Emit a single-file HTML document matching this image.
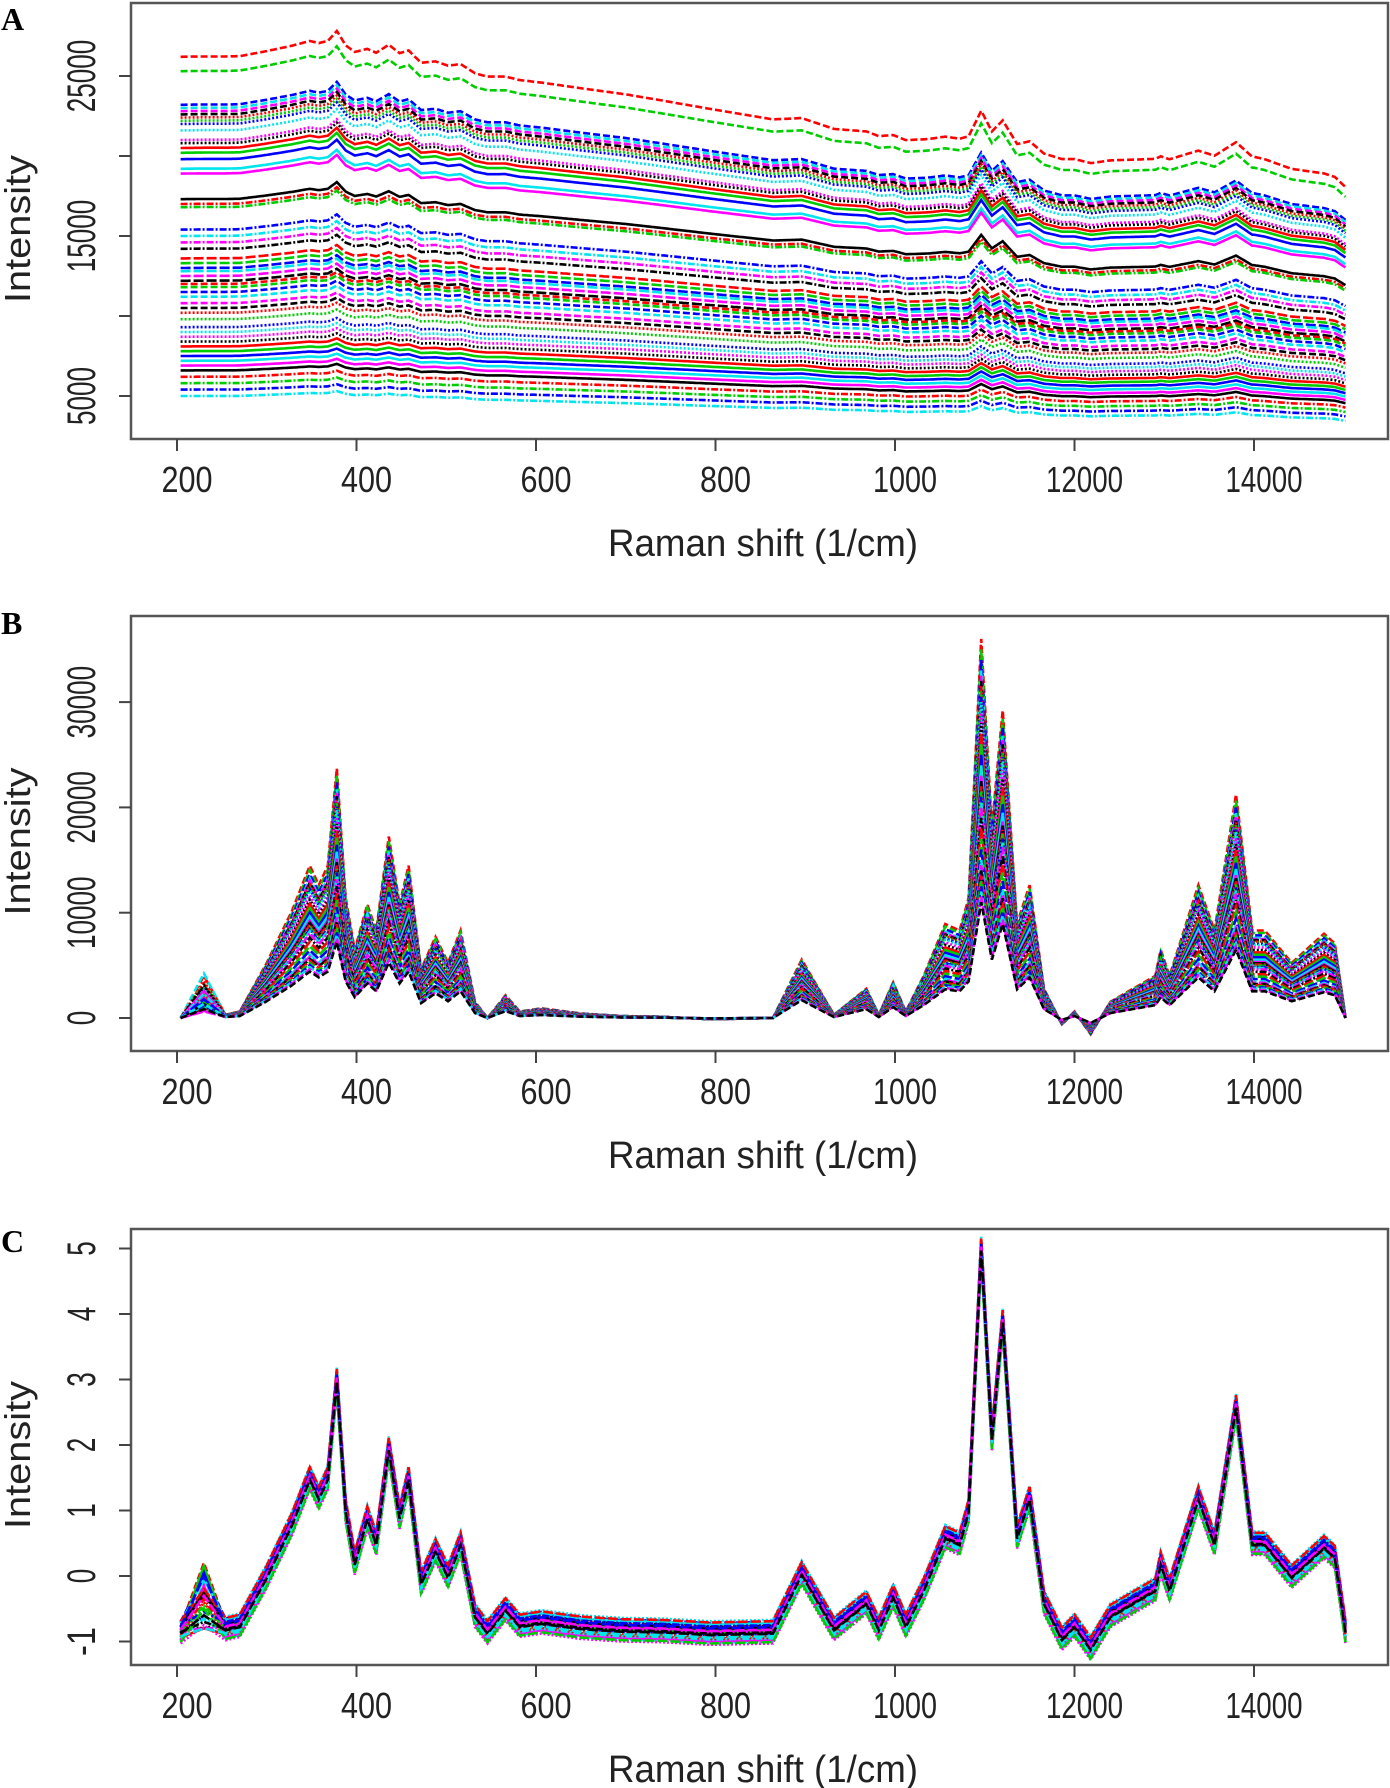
<!DOCTYPE html>
<html><head><meta charset="utf-8"><title>Raman spectra</title>
<style>
html,body{margin:0;padding:0;background:#fff;}
svg{display:block;}
text{font-family:"Liberation Sans Narrow","Liberation Sans",sans-serif;fill:#222;}
.panel-letter{font-family:"Liberation Serif",serif;font-weight:bold;fill:#000;}
</style></head>
<body>
<svg id="fig" width="1390" height="1788" viewBox="0 0 1390 1788" xmlns="http://www.w3.org/2000/svg"></svg>
<script>
// ---- data ----
const xTickLabels = ["200","400","600","800","1000","12000","14000"];
const aYTickValues = [5000,10000,15000,20000,25000];
const aYTickLabels = ["5000","","15000","","25000"];
const bYTickValues = [0,10000,20000,30000];
const bYTickLabels = ["0","10000","20000","30000"];
const cYTickValues = [-1,0,1,2,3,4,5];
const cYTickLabels = ["-1","0","1","2","3","4","5"];

const profileX = [0.02,0.15,0.27,0.35,0.5,0.64,0.74,0.79,0.84,0.89,0.94,0.99,1.06,1.11,1.18,1.24,1.29,1.36,1.44,1.51,1.58,1.66,1.73,1.83,1.91,2.03,2.25,2.48,2.7,2.97,3.32,3.48,3.66,3.84,3.91,3.99,4.06,4.16,4.28,4.36,4.41,4.48,4.54,4.6,4.68,4.75,4.83,4.93,5.0,5.09,5.2,5.45,5.48,5.53,5.69,5.78,5.9,5.99,6.06,6.21,6.39,6.45,6.51];
const profileC = [-0.85,-0.8,-0.8,-0.75,0.0,0.8,1.5,1.2,1.5,3.0,1.0,0.2,0.9,0.5,1.95,0.9,1.5,-0.1,0.4,0.0,0.5,-0.6,-0.85,-0.5,-0.75,-0.7,-0.78,-0.82,-0.83,-0.87,-0.85,0.05,-0.8,-0.4,-0.8,-0.3,-0.75,-0.2,0.6,0.5,1.0,5.0,2.1,3.9,0.6,1.2,-0.4,-0.95,-0.75,-1.1,-0.6,-0.2,0.2,-0.2,1.2,0.5,2.6,0.5,0.5,0.0,0.45,0.3,-0.85];
const bumpX = [0.02,0.15,0.27];
const bumpY = [0,1,0];
const baseX = [0,0.5,0.9,1.6,2.5,3.4,4.2,5.1,6.0,6.5];
const baseY = [1,1.0,1.0,0.96,0.91,0.845,0.79,0.75,0.74,0.69];

const aLevels = [26200,25300,23200,23000,22800,22600,22400,22200,22000,21600,21000,20800,20500,20200,19800,19200,18900,17300,17000,16800,15400,15000,14600,14200,13600,13300,13000,12800,12500,12200,12000,11800,11500,11200,10800,10500,10200,9800,9300,9000,8700,8400,8100,7800,7500,7200,6900,6600,6200,5800,5400,5000];
const bPeaks = [36000,35000,34000,33000,32500,32000,31500,31000,30500,30000,29000,28000,27000,26000,25000,24000,23000,22500,22000,21500,21000,20500,20000,19000,18000,17000,16000,15000,14500,14000,13500,13000,12500,12000,11500,11000];
const bBumps = [0.6,0.5,0.4,0.7,0.3,0.5,0.6,0.4,0.2,0.5,0.3,0.6,0.4,0.5,0.3,0.4,0.6,0.2,0.5,0.4,0.3,0.6,0.5,0.4,0.3,0.5,0.6,0.4,0.2,0.5,0.3,0.4,0.5,0.6,0.3,0.4];
const cOffsets = [0.08,-0.08,0.15,-0.15,0.0,0.12,-0.12,0.04,-0.04,0.18,-0.18,0.09,-0.09,0.02,-0.02,0.13,-0.13,0.06,-0.06,0.0,0.1,-0.1,0.01,-0.01,0.16,-0.16,0.07,-0.07,0.03,-0.03];
const cBumps = [1.0,0.9,0.8,0.7,0.6,0.5,0.4,0.3,0.2,0.1,0.05,0.0,0.0,0.95,0.85,0.75,0.65,0.55,0.45,0.35,0.25,0.15,0.0,0.1,0.6,0.3,0.8,0.0,0.5,0.2];

const colors = ["#ff0000","#00cd00","#0000ff","#00e5ee","#ff00ff","#000000"];
const dashes = ["7 3","2 2","none","7 2 2 2","10 3"];

// ---- helpers ----
const NS = "http://www.w3.org/2000/svg";
const svg = document.getElementById("fig");
function el(tag, attrs, parent, txt){
  const e = document.createElementNS(NS, tag);
  for (const k in attrs) e.setAttribute(k, attrs[k]);
  if (txt !== undefined) e.textContent = txt;
  (parent || svg).appendChild(e);
  return e;
}
function interp(xs, ys, x){
  if (x <= xs[0]) return ys[0];
  for (let i=1;i<xs.length;i++){
    if (x <= xs[i]){ const t=(x-xs[i-1])/(xs[i]-xs[i-1]); return ys[i-1]+t*(ys[i]-ys[i-1]); }
  }
  return ys[ys.length-1];
}
const xPix = idx => 177 + idx*179.5;
const steps = [];
for (let i=0;i<=649;i++) steps.push(0.02 + i*0.01);
function cVal(idx){ return interp(profileX, profileC, idx); }
function bumpVal(idx){ return idx<0.27 ? interp(bumpX,bumpY,idx) : 0; }

function drawFrame(g, top, bottom, yTicks, yTickLabels, yMap, letter, letterY){
  const frame = el("rect",{x:131,y:top,width:1257,height:bottom-top,fill:"none",stroke:"#555","stroke-width":2.5},g);
  
  
  xTickLabels.forEach((lab,i)=>{
    const x = xPix(i);
    const t = el("line",{x1:x,y1:bottom,x2:x,y2:bottom+12,stroke:"#444","stroke-width":2},g);
    
    
    const tl = el("text",{x:x+10,y:bottom+53,"font-size":36,"text-anchor":"middle",textLength:lab.length*13+12,lengthAdjust:"spacingAndGlyphs"},g,lab);
    
    
  });
  yTicks.forEach((v,i)=>{
    const y = yMap(v);
    const t = el("line",{x1:119,y1:y,x2:131,y2:y,stroke:"#444","stroke-width":2},g);
    
    
    const lab = yTickLabels[i];
    if (lab){
      const tl = el("text",{x:0,y:0,"font-size":40,"text-anchor":"middle",transform:`translate(95,${y}) rotate(-90)`,textLength:lab.length*14.5,lengthAdjust:"spacingAndGlyphs",style:"font-family:'Liberation Sans',sans-serif"},g,lab);
      
      
    }
  });
  const xl = el("text",{x:763,y:bottom+117,"font-size":38,"text-anchor":"middle",textLength:310,lengthAdjust:"spacingAndGlyphs"},g,"Raman shift (1/cm)");
  
  
  const yc = (top+bottom)/2;
  const yl = el("text",{x:0,y:0,"font-size":36,"text-anchor":"middle",transform:`translate(30,${yc+8}) rotate(-90)`,textLength:148,lengthAdjust:"spacingAndGlyphs",style:"font-family:'Liberation Sans',sans-serif"},g,"Intensity");
  
  
  const pl = el("text",{x:1,y:letterY,"font-size":32},g,letter);
  pl.setAttribute("class","panel-letter");
  
  
}
function drawSeries(g, pts, i){
  const p = el("polyline",{points:pts.join(" "),fill:"none",stroke:colors[i%colors.length],"stroke-width":2.6,"stroke-dasharray":dashes[Math.floor(i/colors.length)%dashes.length]},g);
  
  
}

// ---- Panel A ----
const gA = el("g",{});  
const yA = v => 396 - (v-5000)*0.016;
aLevels.forEach((lev,i)=>{
  const k = 0.016*lev;
  const pts = steps.map(s => xPix(s).toFixed(1)+","+yA(lev*interp(baseX,baseY,s) + k*(cVal(s)+0.85)).toFixed(1));
  drawSeries(gA, pts, i);
});
drawFrame(gA, 3, 439, aYTickValues, aYTickLabels, yA, "A", 30);

// ---- Panel B ----
const gB = el("g",{});  
const yB = v => 1018 - v*0.01053;
bPeaks.forEach((pk,i)=>{
  const k = pk/5.85;
  const pts = steps.map(s => xPix(s).toFixed(1)+","+yB(k*(cVal(s)+0.85+bBumps[i]*bumpVal(s))).toFixed(1));
  drawSeries(gB, pts, i);
});
drawFrame(gB, 616, 1051, bYTickValues, bYTickLabels, yB, "B", 634);

// ---- Panel C ----
const gC = el("g",{});  
const yC = v => 1576 - v*65.5;
cOffsets.forEach((off,i)=>{
  const pts = steps.map(s => xPix(s).toFixed(1)+","+yC(cVal(s)+off*(1-bumpVal(s))+cBumps[i]*bumpVal(s)).toFixed(1));
  drawSeries(gC, pts, i);
});
drawFrame(gC, 1229, 1665, cYTickValues, cYTickLabels, yC, "C", 1252);
</script>
</body></html>
